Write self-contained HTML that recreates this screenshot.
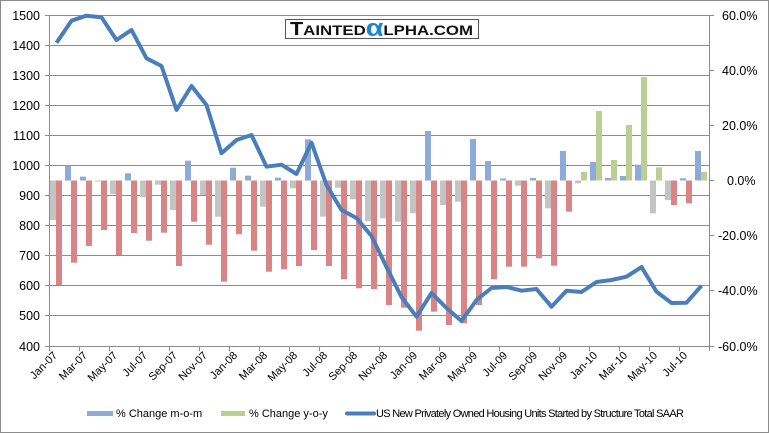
<!DOCTYPE html>
<html><head><meta charset="utf-8"><style>
html,body{margin:0;padding:0;background:#fff}
svg{display:block;font-family:"Liberation Sans",sans-serif}
</style></head><body>
<svg width="769" height="433" viewBox="0 0 769 433" xmlns="http://www.w3.org/2000/svg">
<rect x="0.5" y="0.5" width="768" height="432" fill="#fff" stroke="#8c8c8c"/>
<g stroke="#8c8c8c" stroke-width="1">
<line x1="49" y1="15.5" x2="709" y2="15.5"/><line x1="49" y1="45.5" x2="709" y2="45.5"/><line x1="49" y1="75.5" x2="709" y2="75.5"/><line x1="49" y1="105.5" x2="709" y2="105.5"/><line x1="49" y1="135.5" x2="709" y2="135.5"/><line x1="49" y1="165.5" x2="709" y2="165.5"/><line x1="49" y1="195.5" x2="709" y2="195.5"/><line x1="49" y1="225.5" x2="709" y2="225.5"/><line x1="49" y1="255.5" x2="709" y2="255.5"/><line x1="49" y1="285.5" x2="709" y2="285.5"/><line x1="49" y1="315.5" x2="709" y2="315.5"/><line x1="45" y1="346.5" x2="709" y2="346.5"/>
<line x1="49.5" y1="15" x2="49.5" y2="350"/><line x1="709.5" y1="15" x2="709.5" y2="350"/>
</g>
<g stroke="#8c8c8c">
<line x1="45" y1="15.5" x2="49" y2="15.5"/><line x1="45" y1="45.5" x2="49" y2="45.5"/><line x1="45" y1="75.5" x2="49" y2="75.5"/><line x1="45" y1="105.5" x2="49" y2="105.5"/><line x1="45" y1="135.5" x2="49" y2="135.5"/><line x1="45" y1="165.5" x2="49" y2="165.5"/><line x1="45" y1="195.5" x2="49" y2="195.5"/><line x1="45" y1="225.5" x2="49" y2="225.5"/><line x1="45" y1="255.5" x2="49" y2="255.5"/><line x1="45" y1="285.5" x2="49" y2="285.5"/><line x1="45" y1="315.5" x2="49" y2="315.5"/>
<line x1="709" y1="15.5" x2="714" y2="15.5"/><line x1="709" y1="70.5" x2="714" y2="70.5"/><line x1="709" y1="125.5" x2="714" y2="125.5"/><line x1="709" y1="180.5" x2="714" y2="180.5"/><line x1="709" y1="235.5" x2="714" y2="235.5"/><line x1="709" y1="290.5" x2="714" y2="290.5"/><line x1="709" y1="346.5" x2="714" y2="346.5"/>
</g>
<g id="ticks" stroke="#8c8c8c"></g>
<g font-size="12.5" fill="#000" text-anchor="end">
<text x="40" y="20">1500</text><text x="40" y="50">1400</text><text x="40" y="80">1300</text><text x="40" y="110">1200</text><text x="40" y="140">1100</text><text x="40" y="170">1000</text><text x="40" y="200">900</text><text x="40" y="230">800</text><text x="40" y="260">700</text><text x="40" y="290">600</text><text x="40" y="320">500</text><text x="40" y="351">400</text>
</g>
<g font-size="12.5" fill="#000">
<text x="722" y="20">60.0%</text><text x="722" y="75">40.0%</text><text x="722" y="130">20.0%</text><text x="727" y="185">0.0%</text><text x="718" y="240">-20.0%</text><text x="718" y="295">-40.0%</text><text x="718" y="351">-60.0%</text>
</g>
<g id="bars"></g>
<polyline id="line" fill="none" stroke="#4a7ebb" stroke-width="4" stroke-linejoin="round" points=""/>
<g id="xl" font-size="11" fill="#000" text-anchor="end"></g>
<rect x="285.5" y="19.5" width="193" height="19" fill="#fff" stroke="#555"/>
<text x="290" y="35" font-weight="bold" font-size="18" fill="#111" textLength="183" lengthAdjust="spacingAndGlyphs">T<tspan font-size="14">AINTED</tspan><tspan fill="#1a86d0" font-size="24" font-weight="bold" dy="1">α</tspan><tspan font-size="14" dy="-1">LPHA.COM</tspan></text>
<rect x="87" y="411" width="26" height="5" fill="#8eaad8"/>
<text x="116" y="417" font-size="11">% Change m-o-m</text>
<rect x="221" y="411" width="24" height="5" fill="#bccf92"/>
<text x="249" y="417" font-size="11">% Change y-o-y</text>
<line x1="347" y1="413.5" x2="374" y2="413.5" stroke="#4a7ebb" stroke-width="4" stroke-linecap="round"/>
<text x="376" y="417" font-size="11" textLength="308">US New Privately Owned Housing Units Started by Structure Total SAAR</text>
</svg>
<script>
var mom=[220,165.7,176.7,181.5,194,173.3,197.3,184.7,210,160.7,195,216.7,167.7,175.7,206.7,177.7,188.3,139.3,216.7,187.7,199.3,221,218.3,221.7,213.3,131,205,201.7,139,161,178.5,185.7,178,208.3,151,183.3,162,178,176,164.7,213.3,200,178.3,151];
var yoy=[285,262.7,246,230,255,233,240.7,232.7,266,221.7,244.7,281.7,234.3,250.7,271.7,269.3,266,250,266,279.3,288.3,289,305,307.7,330.7,311.7,325,323.3,305,279.3,266.7,266.7,258.3,265.7,211.7,172,111,160,125,77,167.3,205,203.3,172];
var ln=[42.7,20.7,15.7,17.3,40,30,58.3,66,110,86,105,153.3,140,135,166.7,164.7,174,142.7,185,210,218,236,267,297,316.7,293,308,321,300,288,287,290.7,289,306.7,290.7,292,282,280,276.7,267,291.7,303,302.7,285.7];
var z=180.5,b=document.getElementById("bars"),h="";
for(var i=0;i<44;i++){var x=49+15*i;
var m=mom[i],c=m<z?"#8eaad8":"#c4c4c4";h+='<rect x="'+(x+1)+'" y="'+Math.min(m,z)+'" width="6" height="'+Math.abs(m-z)+'" fill="'+c+'"/>';
var y=yoy[i];c=y<z?"#bccf92":"#d98585";h+='<rect x="'+(x+7)+'" y="'+Math.min(y,z)+'" width="6" height="'+Math.abs(y-z)+'" fill="'+c+'"/>';}
b.innerHTML=h;
var p=[];for(i=0;i<44;i++)p.push((56.5+15*i)+","+ln[i]);document.getElementById("line").setAttribute("points",p.join(" "));
var t="";for(i=0;i<=22;i++){var xx=49.5+30*i;t+='<line x1="'+xx+'" y1="346" x2="'+xx+'" y2="351"/>';}document.getElementById("ticks").innerHTML=t;
var mn=["Jan","Mar","May","Jul","Sep","Nov"],yr=["07","08","09","10"],s="";
for(i=0;i<22;i++){var mo=(i*2)%12,yi=Math.floor(i*2/12),cx=58+30*i;s+='<text transform="translate('+cx+',356) rotate(-45)">'+mn[mo/2]+'-'+yr[yi]+'</text>';}
document.getElementById("xl").innerHTML=s;
</script>
</body></html>
